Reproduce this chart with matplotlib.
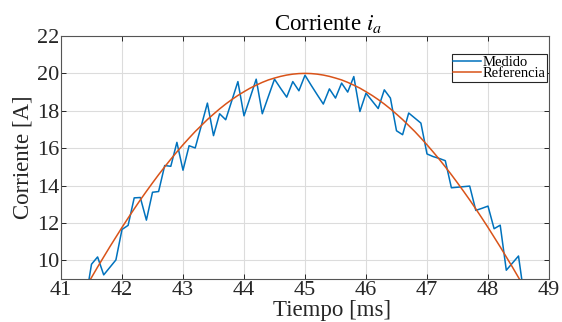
import numpy as np
import matplotlib
matplotlib.use("Agg")
import matplotlib.pyplot as plt

# -----------------------------
# DATA
# -----------------------------
t_ms = np.round(np.arange(41.4, 48.65, 0.1), 1)

medido = [
    7.8, 9.79, 10.18, 9.22, 9.62, 10.02, 11.65, 11.87, 13.34, 13.36,
    12.15, 13.64, 13.68, 15.07, 15.03, 16.31, 14.82, 16.13, 16.01, 17.2,
    18.41, 16.67, 17.84, 17.52, 18.54, 19.56, 17.73, 18.7, 19.69, 17.84,
    18.77, 19.69, 19.2, 18.73, 19.56, 19.07, 19.9, 19.37, 18.86, 18.36,
    19.17, 18.68, 19.48, 19.0, 19.83, 17.96, 18.94, 18.53, 18.12, 19.12,
    18.68, 16.93, 16.72, 17.88, 17.61, 17.34, 15.69, 15.55, 15.45, 15.33,
    13.88, 13.91, 13.94, 13.97, 12.67, 12.78, 12.9, 11.69, 11.88, 9.47,
    9.85, 10.23, 7.9,
]

referencia = [
    8.52, 9.08, 9.64, 10.18, 10.72, 11.24, 11.76, 12.26, 12.75, 13.23,
    13.69, 14.14, 14.58, 15.00, 15.41, 15.80, 16.18, 16.54, 16.89, 17.21,
    17.53, 17.82, 18.10, 18.36, 18.60, 18.82, 19.02, 19.21, 19.37, 19.52,
    19.65, 19.75, 19.84, 19.91, 19.96, 19.99, 20.00, 19.99, 19.96, 19.91,
    19.84, 19.75, 19.65, 19.52, 19.37, 19.21, 19.02, 18.82, 18.60, 18.36,
    18.10, 17.82, 17.53, 17.21, 16.89, 16.54, 16.18, 15.80, 15.41, 15.00,
    14.58, 14.14, 13.69, 13.23, 12.75, 12.26, 11.76, 11.24, 10.72, 10.18,
    9.64, 9.08, 8.52,
]

x_ticks = [41, 42, 43, 44, 45, 46, 47, 48, 49]
y_ticks = [10, 12, 14, 16, 18, 20, 22]

# -----------------------------
# STYLE
# -----------------------------
plt.rcParams["font.family"] = ["Liberation Serif", "DejaVu Serif"]
plt.rcParams["mathtext.fontset"] = "stix"
txt = "#262626"

fig = plt.figure(figsize=(5.62, 3.22), dpi=100)
ax = fig.add_axes([61 / 562, 43 / 322, 488 / 562, 243 / 322])

ax.plot(t_ms, medido, color="#0072BD", lw=1.1, label="Medido")
ax.plot(t_ms, referencia, color="#D95319", lw=1.1, label="Referencia")

ax.set_xlim(41, 49)
ax.set_ylim(9, 22)
ax.set_xticks(x_ticks)
ax.set_yticks(y_ticks)
ax.grid(True, color="#dcdcdc", lw=0.8)
ax.set_axisbelow(True)

ax.tick_params(direction="in", length=3.5, width=0.7, top=True, right=True,
               colors=txt, labelsize=16, pad=1.5)
for s in ax.spines.values():
    s.set_color("#555555")
    s.set_linewidth(0.8)

ax.set_title("Corriente $i_a$", fontsize=16.5, color="black", pad=4, x=0.547)
ax.set_xlabel("Tiempo [ms]", fontsize=16.5, color=txt)
ax.xaxis.set_label_coords(0.555, -0.088)
ax.set_ylabel("Corriente [A]", fontsize=16.5, color=txt, labelpad=2)

leg = ax.legend(loc="upper right", bbox_to_anchor=(547 / 562, 1 - 54 / 322),
                bbox_transform=fig.transFigure, fontsize=10.5,
                frameon=True, fancybox=False, framealpha=1, borderpad=0.1,
                labelspacing=-0.1, handlelength=1.9, handletextpad=0.1,
                borderaxespad=0)
leg.get_frame().set_edgecolor("#262626")
leg.get_frame().set_linewidth(0.8)

fig.savefig("out.png", dpi=100)
